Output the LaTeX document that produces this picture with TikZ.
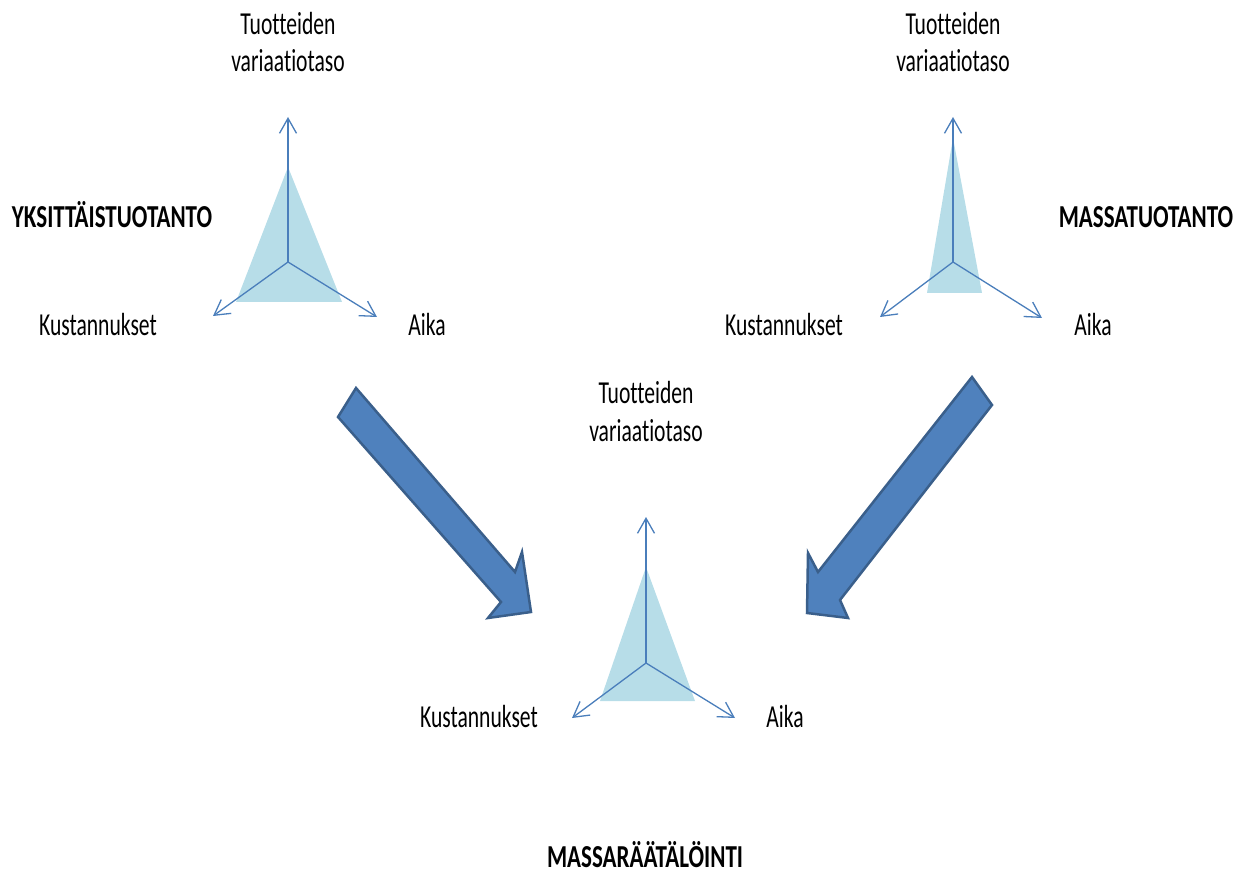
\documentclass[tikz,border=0pt]{standalone}
\usepackage{fontspec}
\setmainfont{Carlito}[FakeStretch=0.675, Ligatures=CommonOff]
\newfontfamily\headfont{Carlito}[FakeStretch=0.72, Ligatures=CommonOff]
\usetikzlibrary{arrows.meta}
\definecolor{axisblue}{HTML}{4A7EBB}
\definecolor{shapeblue}{HTML}{4F81BD}
\definecolor{shapeedge}{HTML}{3A5F8B}
\definecolor{areablue}{HTML}{B7DDE8}
\tikzset{
  axisline/.style={draw=axisblue, line width=1.3pt,
    -{Straight Barb[length=15pt,width=17pt,line width=1.3pt]}},
  area/.style={fill=areablue, draw=none},
  bigarrow/.style={fill=shapeblue, draw=shapeedge, line width=2.5pt, line join=miter},
  lbl/.style={font=\fontsize{32}{38}\selectfont, inner sep=0pt, anchor=base, align=center},
  heading/.style={lbl, font=\headfont\fontsize{32}{38}\selectfont\bfseries}
}
\begin{document}
\begin{tikzpicture}[x=1pt,y=-1pt]
\useasboundingbox (0,0) rectangle (1252,874);

% ---------- Yksittäistuotanto (left) ----------
\coordinate (L0) at (288,262);
\coordinate (Lt) at (288,117);
\coordinate (Ll) at (213,316);
\coordinate (Lr) at (377,317);
\fill[area] (288,167) -- (236,302) -- (342,302) -- cycle;
\draw[axisline] (L0) -- (Lt);
\draw[axisline] (L0) -- (Ll);
\draw[axisline] (L0) -- (Lr);
\node[lbl] (Ltop) at (288,35) {Tuotteiden};
\node[lbl] (Ltop2) at (288,72) {variaatiotaso};
\node[lbl] (Lcost) at (98,335) {Kustannukset};
\node[lbl] (Ltime) at (427,335) {Aika};
\node[heading] (Lname) at (112,228) {YKSITTÄISTUOTANTO};

% ---------- Massatuotanto (right) ----------
\coordinate (R0) at (953,262);
\coordinate (Rt) at (953,117);
\coordinate (Rl) at (880,317);
\coordinate (Rr) at (1042,318);
\fill[area] (953,138) -- (927,293) -- (982,293) -- cycle;
\draw[axisline] (R0) -- (Rt);
\draw[axisline] (R0) -- (Rl);
\draw[axisline] (R0) -- (Rr);
\node[lbl] (Rtop) at (953,35) {Tuotteiden};
\node[lbl] (Rtop2) at (953,72) {variaatiotaso};
\node[lbl] (Rcost) at (784,335) {Kustannukset};
\node[lbl] (Rtime) at (1093,335) {Aika};
\node[heading] (Rname) at (1146,228) {MASSATUOTANTO};

% ---------- Massaräätälöinti (bottom) ----------
\coordinate (B0) at (646,663);
\coordinate (Bt) at (646,517);
\coordinate (Bl) at (572,718);
\coordinate (Br) at (735,718);
\fill[area] (646,567) -- (600,701) -- (695,701) -- cycle;
\draw[axisline] (B0) -- (Bt);
\draw[axisline] (B0) -- (Bl);
\draw[axisline] (B0) -- (Br);
\node[lbl] (Btop) at (646,403) {Tuotteiden};
\node[lbl] (Btop2) at (646,441) {variaatiotaso};
\node[lbl] (Bcost) at (479,727) {Kustannukset};
\node[lbl] (Btime) at (785,727) {Aika};
\node[heading] (Bname) at (645,867) {MASSARÄÄTÄLÖINTI};

% ---------- block arrows towards the combined model ----------
\draw[bigarrow] (338,417) -- (356,388) -- (515,572) -- (522,552)
  -- (531,612) -- (488,618) -- (501,602) -- cycle;
\draw[bigarrow] (972,377) -- (992,405) -- (840,600) -- (848,618)
  -- (807,613) -- (808,553) -- (818,572) -- cycle;
\end{tikzpicture}
\end{document}
